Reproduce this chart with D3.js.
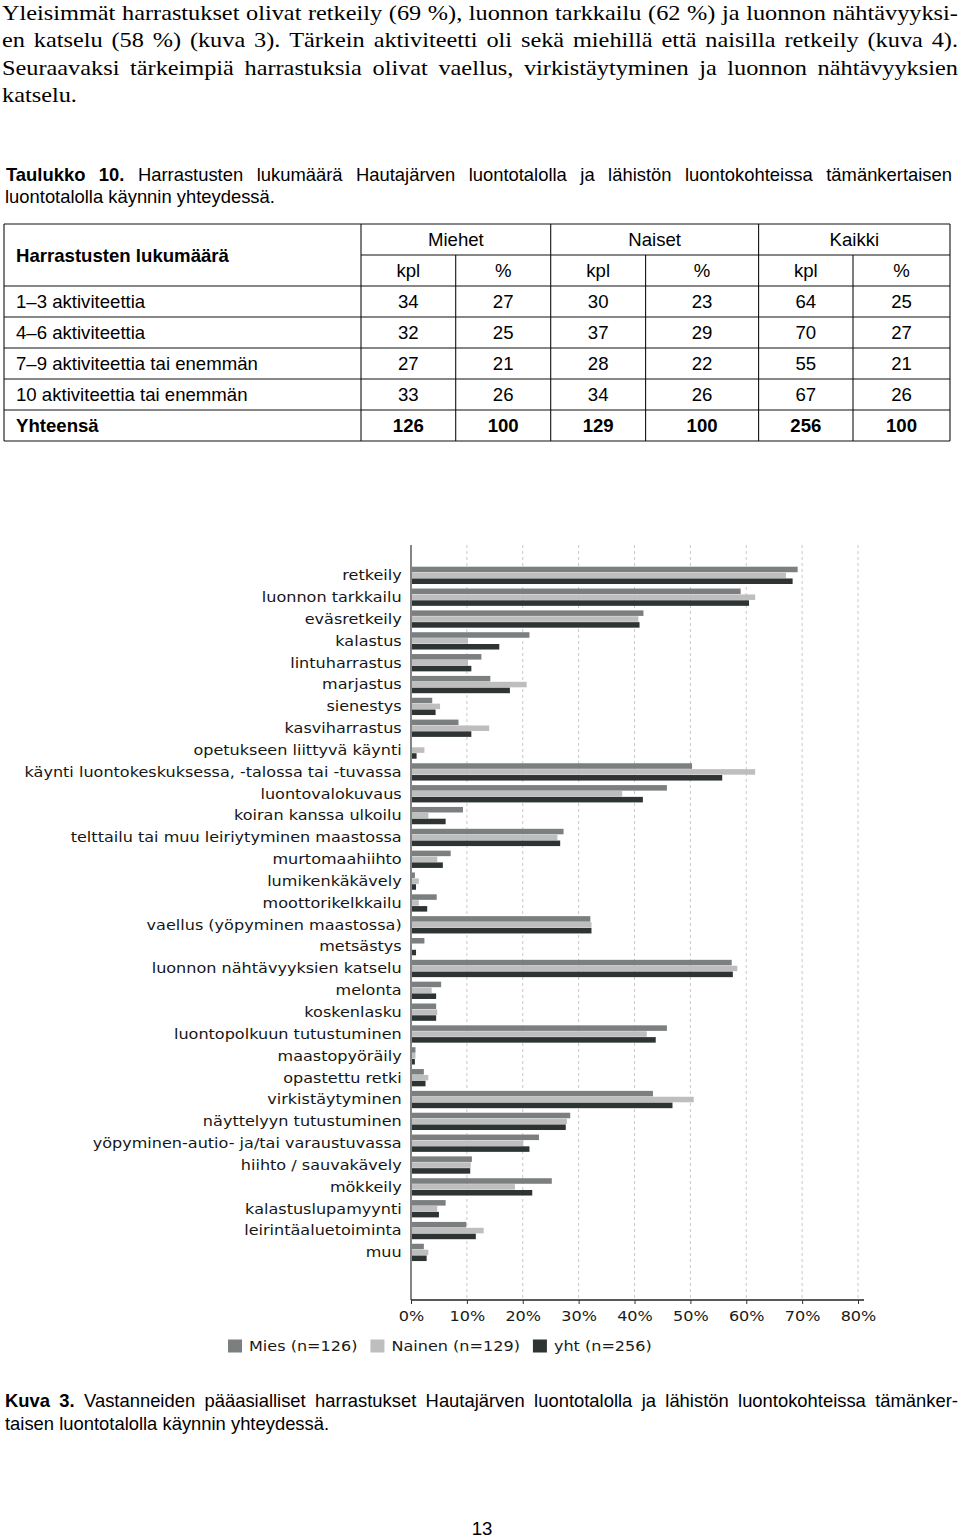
<!DOCTYPE html>
<html>
<head>
<meta charset="utf-8">
<script src="https://cdn.jsdelivr.net/npm/d3@7"></script>
<style>
  html, body { margin: 0; padding: 0; background: #fff; }
  svg { display: block; }
</style>
</head>
<body>
<script>
// ---------------- DATA ----------------
const categories = [
  "retkeily", "luonnon tarkkailu", "eväsretkeily", "kalastus", "lintuharrastus",
  "marjastus", "sienestys", "kasviharrastus", "opetukseen liittyvä käynti",
  "käynti luontokeskuksessa, -talossa tai -tuvassa", "luontovalokuvaus",
  "koiran kanssa ulkoilu", "telttailu tai muu leiriytyminen maastossa",
  "murtomaahiihto", "lumikenkäkävely", "moottorikelkkailu",
  "vaellus (yöpyminen maastossa)", "metsästys", "luonnon nähtävyyksien katselu",
  "melonta", "koskenlasku", "luontopolkuun tutustuminen", "maastopyöräily",
  "opastettu retki", "virkistäytyminen", "näyttelyyn tutustuminen",
  "yöpyminen-autio- ja/tai varaustuvassa", "hiihto / sauvakävely", "mökkeily",
  "kalastuslupamyynti", "leirintäaluetoiminta", "muu"
];
const miesValues   = [69.2, 59.0, 41.6, 21.2, 12.6, 14.2, 3.8, 8.5, 0.0, 50.3, 45.8, 9.3, 27.3, 7.1, 0.7, 4.6, 32.1, 2.4, 57.4, 5.4, 4.5, 45.8, 0.8, 2.3, 43.3, 28.5, 22.9, 10.9, 25.2, 6.2, 9.9, 2.3];
const nainenValues = [67.1, 61.6, 40.7, 10.2, 10.2, 20.7, 5.2, 14.0, 2.4, 61.6, 37.8, 3.1, 26.2, 4.7, 1.4, 1.4, 32.3, 0.0, 58.4, 3.7, 4.7, 42.2, 0.8, 3.1, 50.6, 27.9, 20.1, 10.7, 18.6, 4.7, 13.0, 3.1];
const yhtValues    = [68.3, 60.5, 40.9, 15.8, 10.8, 17.7, 4.4, 10.8, 1.0, 55.7, 41.5, 6.2, 26.7, 5.7, 0.9, 2.9, 32.3, 0.9, 57.6, 4.5, 4.5, 43.8, 0.7, 2.6, 46.8, 27.7, 21.2, 10.6, 21.7, 5.0, 11.6, 2.8];
const seriesKeys   = ["Mies", "Nainen", "yht"];
const seriesLabels = ["Mies (n=126)", "Nainen (n=129)", "yht (n=256)"];
const seriesColors = ["#7b7f7f", "#bebebe", "#2e3434"];
const xTicks = [0, 10, 20, 30, 40, 50, 60, 70, 80];

// table data
const tableGroups   = ["Miehet", "Naiset", "Kaikki"];
const tableSubHeads = ["kpl", "%", "kpl", "%", "kpl", "%"];
const tableRowLabels = ["1–3 aktiviteettia", "4–6 aktiviteettia", "7–9 aktiviteettia tai enemmän", "10 aktiviteettia tai enemmän", "Yhteensä"];
const miehetKpl = [34, 32, 27, 33, 126];
const miehetPct = [27, 25, 21, 26, 100];
const naisetKpl = [30, 37, 28, 34, 129];
const naisetPct = [23, 29, 22, 26, 100];
const kaikkiKpl = [64, 70, 55, 67, 256];
const kaikkiPct = [25, 27, 21, 26, 100];

// texts
const paragraphLines = [
  "Yleisimmät harrastukset olivat retkeily (69 %), luonnon tarkkailu (62 %) ja luonnon nähtävyyksi-",
  "en katselu (58 %) (kuva 3). Tärkein aktiviteetti oli sekä miehillä että naisilla retkeily (kuva 4).",
  "Seuraavaksi tärkeimpiä harrastuksia olivat vaellus, virkistäytyminen ja luonnon nähtävyyksien",
  "katselu."
];
const tableCaptionBold = "Taulukko 10.";
const tableCaptionLines = [
  "Harrastusten lukumäärä Hautajärven luontotalolla ja lähistön luontokohteissa tämänkertaisen",
  "luontotalolla käynnin yhteydessä."
];
const figCaptionBold = "Kuva 3.";
const figCaptionLines = [
  "Vastanneiden pääasialliset harrastukset Hautajärven luontotalolla ja lähistön luontokohteissa tämänker-",
  "taisen luontotalolla käynnin yhteydessä."
];
const pageNumber = "13";

// ---------------- LAYOUT ----------------
const W = 960, H = 1539;
const SX = 1.19; // horizontal stretch of the chart's bitmap-like font
const SERIF = "'Liberation Serif','Times New Roman',serif";
const SANS = "'Liberation Sans',Arial,sans-serif";
const CHART = "'DejaVu Sans',Verdana,sans-serif";

const svg = d3.select("body").append("svg").attr("width", W).attr("height", H);
svg.append("rect").attr("width", W).attr("height", H).attr("fill", "#fff");

function sText(parent, x, y, str, o) {
  const sx = o.sx === undefined ? SX : o.sx;
  return parent.append("text")
    .attr("transform", `translate(${x},${y}) scale(${sx},1)`)
    .attr("text-anchor", o.anchor || "start")
    .attr("font-family", o.family)
    .attr("font-size", o.size)
    .attr("font-weight", o.weight || "normal")
    .attr("fill", o.fill || "#000")
    .attr("xml:space", "preserve")
    .text(str);
}

// segments: [{t, b}] ; justify between x0 and x1
function justifyLine(parent, segments, x0, x1, y, family, size, sx = 1) {
  const tokens = [];
  segments.forEach(s => s.t.split(" ").filter(w => w.length).forEach(w => tokens.push({ t: w, b: s.b })));
  const nodes = tokens.map(tk => parent.append("text")
    .attr("font-family", family).attr("font-size", size)
    .attr("font-weight", tk.b ? "bold" : "normal").attr("fill", "#000").text(tk.t));
  const widths = nodes.map(n => n.node().getComputedTextLength() * sx);
  const gap = (x1 - x0 - d3.sum(widths)) / (tokens.length - 1);
  let x = x0;
  nodes.forEach((n, i) => {
    n.attr("transform", `translate(${x},${y}) scale(${sx},1)`);
    x += widths[i] + gap;
  });
}

function plainLine(parent, segments, x0, y, family, size, sx = 1) {
  const t = parent.append("text")
    .attr("transform", `translate(${x0},${y}) scale(${sx},1)`)
    .attr("font-family", family).attr("font-size", size).attr("fill", "#000")
    .attr("xml:space", "preserve");
  segments.forEach(s => t.append("tspan").attr("font-weight", s.b ? "bold" : "normal").text(s.t));
}

// ---- paragraph ----
const para = svg.append("g");
const paraBase = [19.8, 47.2, 74.6, 102];
const PS = 22, PSX = 1.105;
paragraphLines.forEach((l, i) => {
  if (i < 3) justifyLine(para, [{ t: l }], 2, 958, paraBase[i], SERIF, PS, PSX);
  else plainLine(para, [{ t: l }], 2, paraBase[i], SERIF, PS, PSX);
});

// ---- table caption ----
const CS = 18.4;
const cap = svg.append("g");
justifyLine(cap, [{ t: tableCaptionBold, b: true }, { t: tableCaptionLines[0] }], 6, 952, 180.5, SANS, CS);
plainLine(cap, [{ t: tableCaptionLines[1] }], 5, 203, SANS, CS);

// ---- table ----
const tg = svg.append("g");
const colEdges = [4, 361, 455.7, 550.7, 645.6, 758.6, 853, 950];
const rowEdges = [224, 255, 286, 317, 348, 379, 410, 441];
const line = (x1, y1, x2, y2) => tg.append("line")
  .attr("x1", x1).attr("y1", y1).attr("x2", x2).attr("y2", y2)
  .attr("stroke", "#111").attr("stroke-width", 1.1);
// horizontal
line(colEdges[0], rowEdges[0], colEdges[7], rowEdges[0]);
line(colEdges[1], rowEdges[1], colEdges[7], rowEdges[1]);
for (let r = 2; r < rowEdges.length; r++) line(colEdges[0], rowEdges[r], colEdges[7], rowEdges[r]);
// vertical
[0, 1, 3, 5, 7].forEach(c => line(colEdges[c], rowEdges[0], colEdges[c], rowEdges[7]));
[2, 4, 6].forEach(c => line(colEdges[c], rowEdges[1], colEdges[c], rowEdges[7]));

const TS = 18.6;
const TSX = 1.0;
const rowMid = r => (rowEdges[r] + rowEdges[r + 1]) / 2 + 6.6;
sText(tg, 16, (rowEdges[0] + rowEdges[2]) / 2 + 6.6, "Harrastusten lukumäärä", { family: SANS, size: TS, weight: "bold", sx: TSX });
tableGroups.forEach((g, i) => {
  const cx = (colEdges[1 + 2 * i] + colEdges[3 + 2 * i]) / 2;
  sText(tg, cx, rowMid(0), g, { family: SANS, size: TS, anchor: "middle", sx: TSX });
});
tableSubHeads.forEach((s, i) => {
  const cx = (colEdges[1 + i] + colEdges[2 + i]) / 2;
  sText(tg, cx, rowMid(1), s, { family: SANS, size: TS, anchor: "middle", sx: TSX });
});
const tableCols = [miehetKpl, miehetPct, naisetKpl, naisetPct, kaikkiKpl, kaikkiPct];
tableRowLabels.forEach((lab, r) => {
  const bold = r === tableRowLabels.length - 1 ? "bold" : "normal";
  sText(tg, 16, rowMid(r + 2), lab, { family: SANS, size: TS, weight: bold, sx: TSX });
  tableCols.forEach((col, c) => {
    const cx = (colEdges[1 + c] + colEdges[2 + c]) / 2;
    sText(tg, cx, rowMid(r + 2), String(col[r]), { family: SANS, size: TS, weight: bold, anchor: "middle", sx: TSX });
  });
});

// ---- chart ----
const cg = svg.append("g");
const plotTop = 545, plotBottom = 1300;
const x = d3.scaleLinear().domain([0, 80]).range([411, 858]);
const y = d3.scaleBand().domain(categories).range([564.4, 1263.3]).padding(0);
const ySub = d3.scaleBand().domain(seriesKeys).range([2.3, 19.6]).paddingInner(0.06);

// grid
cg.append("g").selectAll("line").data(xTicks.filter(t => t > 0)).join("line")
  .attr("x1", d => x(d)).attr("x2", d => x(d))
  .attr("y1", plotTop).attr("y2", plotBottom)
  .attr("stroke", "#c9c9c9").attr("stroke-width", 1).attr("stroke-dasharray", "3,3");

// bars
const seriesValues = [miesValues, nainenValues, yhtValues];
const barData = [];
categories.forEach((c, i) => seriesKeys.forEach((k, j) => barData.push({ c, k, j, v: seriesValues[j][i] })));
cg.append("g").selectAll("rect").data(barData.filter(d => d.v > 0)).join("rect")
  .attr("x", x(0) + 1)
  .attr("y", d => y(d.c) + ySub(d.k))
  .attr("width", d => Math.max(0, x(d.v) - x(0) - 1))
  .attr("height", ySub.bandwidth())
  .attr("fill", d => seriesColors[d.j]);

// y axis line
cg.append("line").attr("x1", x(0)).attr("x2", x(0)).attr("y1", plotTop).attr("y2", plotBottom)
  .attr("stroke", "#333").attr("stroke-width", 1.2);

// category labels (y axis)
const yAxis = cg.append("g").attr("transform", `translate(${x(0)},0)`)
  .call(d3.axisLeft(y).tickSize(0).tickPadding(0));
yAxis.select(".domain").remove();
yAxis.selectAll("text")
  .attr("x", 0).attr("dy", "0.36em")
  .attr("transform", `translate(-9.3,0) scale(${SX},1)`)
  .attr("font-family", CHART).attr("font-size", 13.5).attr("fill", "#151515");

// x axis
const xAxis = cg.append("g").attr("transform", `translate(0,${plotBottom})`)
  .call(d3.axisBottom(x).tickValues(xTicks).tickFormat(d => d + "%").tickSize(4).tickPadding(7.5));
xAxis.select(".domain").attr("d", `M${x(0)},0H864`).attr("stroke", "#222").attr("stroke-width", 1.4);
xAxis.selectAll(".tick line").attr("stroke", "#333");
xAxis.selectAll("text")
  .attr("transform", `scale(${SX},1)`)
  .attr("font-family", CHART).attr("font-size", 13.5).attr("fill", "#1a1a1a");

// legend
const lg = cg.append("g");
let lx = 228;
const ly = 1346;
seriesLabels.forEach((lab, i) => {
  lg.append("rect").attr("x", lx).attr("y", ly - 6.5).attr("width", 14).attr("height", 13)
    .attr("fill", seriesColors[i]);
  const t = sText(lg, lx + 21, ly + 5, lab, { family: CHART, size: 13.5, fill: "#1a1a1a" });
  lx = lx + 21 + t.node().getComputedTextLength() * SX + 13;
});

// ---- figure caption ----
const fc = svg.append("g");
justifyLine(fc, [{ t: figCaptionBold, b: true }, { t: figCaptionLines[0] }], 5, 958, 1407, SANS, CS);
plainLine(fc, [{ t: figCaptionLines[1] }], 5, 1429.5, SANS, CS);

// page number
sText(svg, 482, 1535, pageNumber, { family: SANS, size: 18.6, anchor: "middle", sx: 1 });
</script>
</body>
</html>
